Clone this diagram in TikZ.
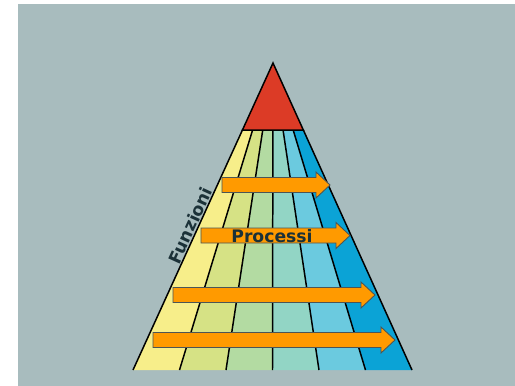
\documentclass[tikz,border=0pt]{standalone}
\usepackage{fontspec}
\setmainfont{DejaVu Sans}
\usepackage{xcolor}
\usetikzlibrary{calc}

\definecolor{bgcol}{HTML}{A8BCBE}
\definecolor{topred}{HTML}{DC3B26}
\definecolor{stripA}{HTML}{F7EE8A}
\definecolor{stripB}{HTML}{D6E285}
\definecolor{stripC}{HTML}{B3DBA2}
\definecolor{stripD}{HTML}{92D5C5}
\definecolor{stripE}{HTML}{6BCADF}
\definecolor{stripF}{HTML}{0BA3D6}
\definecolor{arrowfill}{HTML}{FF9A00}
\definecolor{labelcol}{HTML}{1B3138}

% block arrow: start x, tip x, centre y
\newcommand{\flowarrow}[3]{%
  \draw[procarrow] (#1,#3-7.5) -- (#2-14,#3-7.5) -- (#2-14,#3-13) -- (#2,#3)
    -- (#2-14,#3+13) -- (#2-14,#3+7.5) -- (#1,#3+7.5) -- cycle;}

\begin{document}
\begin{tikzpicture}[
    x=0.02cm, y=-0.02cm,
    edge/.style={line width=0.85pt, draw=black},
    procarrow/.style={fill=arrowfill, draw=black!55!bgcol, line width=0.5pt},
    lbl/.style={font=\bfseries\fontsize{9.8}{11}\selectfont, text=labelcol, inner sep=1pt}
]
    \useasboundingbox (0,0) rectangle (515,386);
    \fill[bgcol] (18,4) rectangle (515,386);

    \coordinate (apex) at (273,63);
    \coordinate (bl) at (133,370);
    \coordinate (br) at (412,370);
    \coordinate (tl) at ($(bl)!240/307!(apex)$);
    \coordinate (tr) at ($(br)!240/307!(apex)$);

    % coloured strips
    \foreach \c [count=\i from 0, evaluate=\i as \j using \i+1] in {stripA,stripB,stripC,stripD,stripE,stripF}
        \fill[\c] ($(tl)!\i/6!(tr)$) -- ($(tl)!\j/6!(tr)$) -- ($(bl)!\j/6!(br)$) -- ($(bl)!\i/6!(br)$) -- cycle;
    \foreach \i in {1,...,5}
        \draw[edge] ($(tl)!\i/6!(tr)$) -- ($(bl)!\i/6!(br)$);
    \draw[edge] (tl) -- (bl);
    \draw[edge] (tr) -- (br);

    % top
    \filldraw[edge, fill=topred] (apex) -- (tl) -- (tr) -- cycle;

    \path (bl) -- (apex) node[lbl, pos=0.46, sloped, above, inner sep=0.5pt] (funz) {Funzioni};

    % processes
    \flowarrow{222}{330}{185}
    \flowarrow{201}{350}{235.5}
    \flowarrow{173}{375}{295}
    \flowarrow{153}{395}{340}

    \node[lbl, anchor=base] (proc) at (272,242) {Processi};
\end{tikzpicture}
\end{document}
